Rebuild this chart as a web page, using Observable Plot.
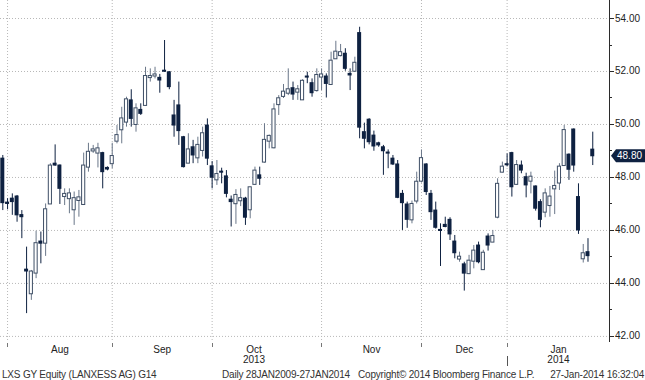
<!DOCTYPE html>
<html><head><meta charset="utf-8">
<script src="https://cdn.jsdelivr.net/npm/d3@7"></script>
<script src="https://cdn.jsdelivr.net/npm/@observablehq/plot@0.6"></script>
<style>
body{margin:0;background:#fff;font-family:Arial,"Liberation Sans",sans-serif;}
#wrap{position:relative;width:645px;height:380px;overflow:hidden;background:#fff}
#footer{position:absolute;left:0;top:370px;width:645px;height:10px;font-size:10px;color:#333;letter-spacing:-0.2px}
#footer span{position:absolute;top:0;white-space:nowrap;line-height:10px}
</style></head><body>
<div id="wrap"><div id="chart"></div>
<div id="footer">
<span style="left:2px">LXS GY Equity (LANXESS AG) G14</span>
<span style="left:222px">Daily 28JAN2009-27JAN2014</span>
<span style="left:358px">Copyright© 2014 Bloomberg Finance L.P.</span>
<span style="right:1px">27-Jan-2014 16:32:04</span>
</div></div>
<script>
// Daily candles, index 0 = last days of July 2013 ... index 124 = 27 Jan 2014
const open = [48.71,47.05,47.2,47.28,46.58,44.52,43.61,44.39,45.58,45.52,
47.0,48.52,48.45,47.28,47.2,46.78,47.13,46.98,48.39,49.0,
48.92,48.92,48.36,48.52,49.37,49.8,50.09,50.91,50.0,50.55,
50.72,51.77,51.83,51.76,52.03,51.97,50.34,50.72,49.52,48.54,
49.14,48.74,49.02,49.96,48.42,47.91,48.22,48.04,47.16,47.01,
47.12,47.2,46.78,47.74,48.08,48.58,49.37,49.12,50.75,51.06,
51.18,51.37,51.22,50.93,51.81,51.56,51.28,51.79,51.81,51.51,
52.48,52.6,52.67,51.91,52.01,53.45,49.71,50.18,49.58,49.29,
49.14,48.94,48.71,48.49,47.38,46.98,46.4,47.11,47.86,48.49,
47.38,46.75,46.02,46.21,46.4,45.58,44.92,44.72,44.37,44.84,
45.43,44.52,45.77,45.56,46.5,48.2,48.5,48.92,47.74,48.45,
48.01,47.86,47.66,47.07,46.69,46.94,47.57,47.79,48.45,48.86,
49.81,47.26,44.93,45.18,49.05];
const close = [47.03,47.0,47.07,46.57,46.5,44.45,44.43,45.5,45.5,46.78,
48.43,48.45,47.57,47.36,47.38,47.2,47.23,48.43,48.95,49.04,
49.08,48.2,48.3,48.79,49.58,50.21,50.93,50.21,50.59,50.4,
51.81,51.81,51.87,51.66,51.99,51.41,49.96,49.75,48.39,49.04,
48.83,49.21,49.65,48.71,47.99,48.11,48.18,47.38,47.07,47.32,
47.2,46.48,47.61,48.24,47.95,49.4,49.55,50.55,50.97,51.22,
51.31,51.13,51.31,51.63,51.77,51.18,51.85,51.87,51.53,52.39,
52.73,52.71,52.1,51.85,52.31,49.88,49.46,49.33,49.17,49.21,
48.99,48.9,48.49,47.23,47.03,46.4,46.98,47.82,48.71,47.45,
46.69,46.1,45.98,46.13,45.85,45.14,44.99,44.37,44.84,45.22,
44.8,45.14,45.43,45.77,47.74,48.39,48.46,47.63,48.45,48.26,
47.7,48.01,46.82,46.4,47.38,47.26,47.66,48.39,49.77,48.29,
48.45,46.0,45.12,45.03,48.8];
const high = [48.83,47.2,47.38,47.32,46.75,45.37,44.49,45.97,45.94,47.0,
48.52,49.23,48.47,47.57,47.57,47.45,47.51,48.92,49.29,49.21,
49.29,48.95,48.4,49.29,49.96,50.65,51.03,51.31,50.78,50.78,
52.16,52.1,52.16,51.89,53.17,52.0,50.91,51.6,49.55,49.65,
49.4,49.52,49.9,50.21,48.6,48.64,48.35,48.26,47.3,47.54,
47.57,47.25,47.63,48.39,48.39,50.03,49.6,50.78,51.09,51.51,
52.1,51.6,51.47,51.69,51.97,51.72,52.1,52.1,51.91,52.73,
53.14,53.02,52.86,52.1,52.54,53.67,50.05,50.22,49.75,49.33,
49.21,49.04,48.83,48.64,47.51,47.07,47.11,48.2,49.04,48.52,
47.51,47.07,46.25,46.5,46.48,45.81,45.18,44.8,45.06,45.43,
45.56,45.25,45.87,46.0,47.95,48.58,48.89,48.95,48.64,48.62,
48.16,48.2,47.68,47.16,47.57,47.66,48.24,48.52,49.96,48.89,
49.83,47.76,45.47,45.69,49.71];
const low = [46.75,46.78,46.57,46.31,45.69,42.86,43.36,44.18,44.74,45.02,
46.98,48.42,46.98,46.94,46.63,46.19,46.5,46.94,48.2,48.91,
48.36,47.57,48.25,48.33,49.27,49.27,49.9,49.9,49.71,50.34,
50.68,51.6,51.72,51.18,51.97,51.31,49.52,49.21,48.36,48.52,
48.52,48.52,48.77,48.45,47.57,47.7,47.76,47.23,46.13,46.23,
46.9,46.19,46.44,47.7,47.7,48.54,49.08,49.08,50.34,50.98,
51.09,50.91,50.91,50.91,51.54,51.03,51.22,51.28,51.0,51.47,
52.48,52.55,52.01,51.28,51.98,49.46,49.08,49.23,48.99,49.14,
48.08,48.33,48.45,47.2,46.0,46.08,46.25,47.0,47.79,47.32,
46.38,46.05,44.64,46.1,45.62,44.93,44.8,43.71,44.33,44.55,
44.74,44.5,45.22,45.54,46.44,48.17,48.4,47.26,47.7,48.14,
47.23,47.38,46.73,46.1,46.48,46.5,46.6,47.51,48.42,47.89,
48.2,45.85,44.77,44.8,48.45];
const months = ["Aug","Sep","Oct","Nov","Dec","Jan"];
const monthStart = [1,23,44,67,88,106];          // candle index of first trading day
const monthLabelAt = [12,33.5,52.8,77.5,97,116.8]; // candle index where the label sits
const years = ["2013","2014"];
const yearLabelAt = [52.8,116.8];
const yearBreak = 106;
const yTicks = [42,44,46,48,50,52,54];
const yMinor = [43,45,47,49,51,53];
const lastPrice = 48.80;

const X0 = -0.483, X1 = 127.52;
const navy = "#0e2141";
const table = open.map((o,i)=>({i, o, h: high[i], l: low[i], c: close[i]}));
const up = table.filter(d=>d.c>=d.o), down = table.filter(d=>d.c<d.o);
const monthLab = months.map((m,k)=>({m, x: monthLabelAt[k]}));
const yearLab = years.map((t,k)=>({t, x: yearLabelAt[k]}));

function axisMark(index, scales, values, dims) {
  const g = d3.create("svg:g").attr("font-family","Arial, 'Liberation Sans', sans-serif").attr("font-size",10).attr("text-anchor","start");
  const y = scales.y, x = scales.x;
  const xr = dims.width - dims.marginRight;
  const yb = dims.height - dims.marginBottom;
  g.append("line").attr("x1",xr+0.5).attr("x2",xr+0.5).attr("y1",0).attr("y2",yb).attr("stroke","#2b2b2b");
  for (const v of yTicks) {
    g.append("line").attr("x1",xr).attr("x2",xr+5).attr("y1",Math.round(y(v))+0.5).attr("y2",Math.round(y(v))+0.5).attr("stroke","#2b2b2b");
    g.append("text").attr("x",xr+6).attr("y",y(v)).attr("dy","0.35em").attr("fill","#222").attr("text-anchor","start").text(v.toFixed(2));
  }
  for (const v of yMinor) {
    g.append("line").attr("x1",xr).attr("x2",xr+3).attr("y1",Math.round(y(v))+0.5).attr("y2",Math.round(y(v))+0.5).attr("stroke","#2b2b2b");
  }
  for (const m of monthStart) {
    g.append("line").attr("x1",Math.round(x(m))+0.5).attr("x2",Math.round(x(m))+0.5).attr("y1",yb+1).attr("y2",yb+5).attr("stroke","#777");
  }
  const xs = Math.round(x(yearBreak))+0.5;
  g.append("line").attr("x1",xs).attr("x2",xs).attr("y1",yb+14).attr("y2",yb+24).attr("stroke","#555");
  // last price tag
  const yp = y(lastPrice);
  g.append("path").attr("d",`M${xr+2},${yp} L${xr+7},${yp-6.5} H${dims.width} V${yp+6.5} H${xr+7} Z`).attr("fill",navy);
  g.append("text").attr("x",xr+8).attr("y",yp).attr("dy","0.35em").attr("fill","#fff").attr("text-anchor","start").text(lastPrice.toFixed(2));
  return g.node();
}

const chart = Plot.plot({
  width: 645, height: 366,
  marginLeft: 0, marginRight: 36, marginTop: 0, marginBottom: 24,
  x: {type: "linear", domain: [X0, X1], axis: null},
  y: {domain: [41.77, 54.68], axis: null},
  style: {background: "#fff", fontFamily: "Arial, 'Liberation Sans', sans-serif", fontSize: "10px", overflow: "visible"},
  marks: [
    Plot.ruleY(yTicks, {y: d=>d, stroke: "#b8b8b8", strokeDasharray: "1,2"}),
    Plot.ruleX(monthStart, {x: d=>d, stroke: "#b8b8b8", strokeDasharray: "1,2"}),
    Plot.ruleX(up, {x: "i", y1: "l", y2: "h", stroke: "#6a7789"}),
    Plot.ruleX(down, {x: "i", y1: "l", y2: "h", stroke: navy}),
    Plot.rect(down, {x1: d=>d.i-0.42, x2: d=>d.i+0.42, y1: "o", y2: "c", fill: navy, insetTop: -0.5, insetBottom: -0.5}),
    Plot.rect(up, {x1: d=>d.i-0.33, x2: d=>d.i+0.33, y1: "o", y2: "c", fill: "#fff", stroke: "#3f4f66", insetTop: -0.5, insetBottom: -0.5}),
    Plot.text(monthLab, {x: "x", frameAnchor: "bottom", dy: 10, text: "m", fill: "#222", fontSize: 10}),
    Plot.text(yearLab, {x: "x", frameAnchor: "bottom", dy: 20, text: "t", fill: "#222", fontSize: 10}),
    axisMark
  ]
});
document.getElementById("chart").appendChild(chart);
</script>
</body></html>
